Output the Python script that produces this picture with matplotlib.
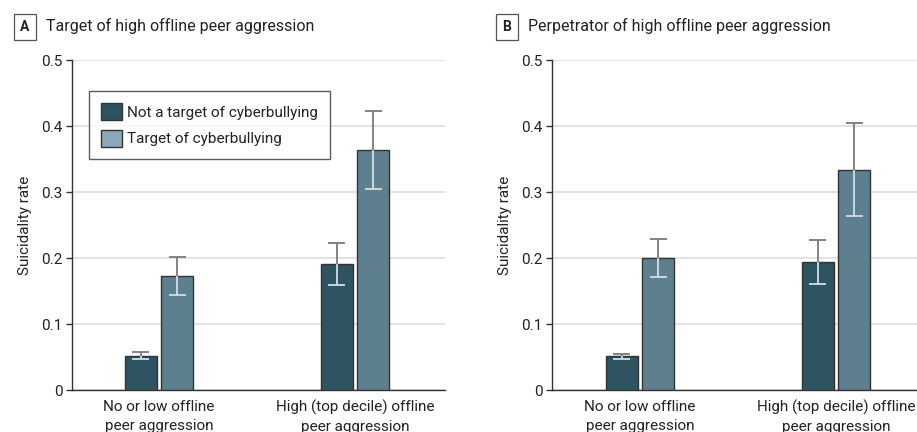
import matplotlib
matplotlib.use("Agg")
import matplotlib.pyplot as plt
from matplotlib.patches import Patch

plt.rcParams['font.family'] = ['Roboto', 'DejaVu Sans']

categories = ["No or low offline\npeer aggression", "High (top decile) offline\npeer aggression"]
series_names = ["Not a target of cyberbullying", "Target of cyberbullying"]

# Panel A
a_not = [0.052, 0.191]
a_not_lo = [0.047, 0.159]
a_not_hi = [0.057, 0.222]
a_tgt = [0.173, 0.364]
a_tgt_lo = [0.144, 0.305]
a_tgt_hi = [0.202, 0.423]

# Panel B
b_not = [0.051, 0.194]
b_not_lo = [0.047, 0.161]
b_not_hi = [0.055, 0.227]
b_tgt = [0.200, 0.334]
b_tgt_lo = [0.171, 0.264]
b_tgt_hi = [0.229, 0.404]

yticks = [0, 0.1, 0.2, 0.3, 0.4, 0.5]
yticklabels = ["0", "0.1", "0.2", "0.3", "0.4", "0.5"]

DARK = "#2e5361"
LIGHT = "#5d7f8e"
LEG_LIGHT = "#8aa9b5"
EDGE = "#333333"
ERR_OUT = "#7a7a7a"
ERR_IN = "#d3dfe4"
FS = 10.5

fig = plt.figure(figsize=(9.17, 4.32), dpi=100)
axA = fig.add_axes([72/917, 1-390/432, 373/917, 330/432])
axB = fig.add_axes([552/917, 1-390/432, 365/917, 330/432])

W = 0.163
OFF = 0.094
CAP = 0.045

def draw_err(ax, x, v, lo, hi):
    for xi, vi, l, h in zip(x, v, lo, hi):
        ax.vlines(xi, vi, h, color=ERR_OUT, lw=1.3, zorder=4)
        ax.hlines(h, xi - CAP, xi + CAP, color=ERR_OUT, lw=1.3, zorder=4)
        ax.vlines(xi, l, vi, color=ERR_IN, lw=1.3, zorder=4)
        ax.hlines(l, xi - CAP, xi + CAP, color=ERR_IN, lw=1.3, zorder=4)

def panel(ax, v1, l1, h1, v2, l2, h2, xlim):
    xs = range(len(categories))
    x1 = [i - OFF for i in xs]
    x2 = [i + OFF for i in xs]
    ax.bar(x1, v1, width=W, color=DARK, edgecolor=EDGE, lw=1.0, zorder=3)
    ax.bar(x2, v2, width=W, color=LIGHT, edgecolor=EDGE, lw=1.0, zorder=3)
    draw_err(ax, x1, v1, l1, h1)
    draw_err(ax, x2, v2, l2, h2)
    ax.set_xlim(*xlim)
    ax.set_ylim(0, 0.5)
    ax.set_yticks(yticks)
    ax.set_yticklabels(yticklabels)
    ax.set_xticks(list(xs))
    ax.set_xticklabels(categories, fontsize=FS + 0.5, color="#222222", linespacing=1.45)
    ax.tick_params(axis='x', length=0, pad=7)
    ax.tick_params(axis='y', labelsize=FS + 0.5, labelcolor="#222222", length=4, width=1, color="#333333", pad=3)
    ax.yaxis.grid(True, color="#dddddd", lw=1.2, zorder=0)
    ax.set_axisbelow(True)
    for s in ["top", "right"]:
        ax.spines[s].set_visible(False)
    for s in ["left", "bottom"]:
        ax.spines[s].set_color("#333333")
        ax.spines[s].set_linewidth(1.0)
    ax.set_ylabel("Suicidality rate", fontsize=FS + 0.5, color="#222222", labelpad=6)

panel(axA, a_not, a_not_lo, a_not_hi, a_tgt, a_tgt_lo, a_tgt_hi, (-0.444, 1.459))
panel(axB, b_not, b_not_lo, b_not_hi, b_tgt, b_tgt_lo, b_tgt_hi, (-0.449, 1.413))

handles = [Patch(facecolor=DARK, edgecolor=EDGE, lw=1.0, label=series_names[0]),
           Patch(facecolor=LEG_LIGHT, edgecolor=EDGE, lw=1.0, label=series_names[1])]
leg = axA.legend(handles=handles, loc="upper left", bbox_to_anchor=(17/373, 1-31/330),
                 fontsize=FS + 0.5, frameon=True, fancybox=False, edgecolor="#333333",
                 handlelength=1.35, handleheight=1.35, handletextpad=0.35, labelspacing=0.6,
                 borderpad=0.8, borderaxespad=0)
leg.get_frame().set_linewidth(1.0)
for t in leg.get_texts():
    t.set_color("#222222")

def panel_title(x_box, x_text, letter, text):
    fig.text(x_box/917, 1-27/432, letter, fontsize=10, fontweight="bold", ha="center", va="center",
             color="#222222",
             bbox=dict(boxstyle="square,pad=0.45", facecolor="white", edgecolor="#555555", lw=0.9))
    fig.text(x_text/917, 1-26/432, text, fontsize=FS + 1, ha="left", va="center", color="#222222")

panel_title(25, 46, "A", "Target of high offline peer aggression")
panel_title(507, 528, "B", "Perpetrator of high offline peer aggression")

fig.savefig("out.png", dpi=100)
